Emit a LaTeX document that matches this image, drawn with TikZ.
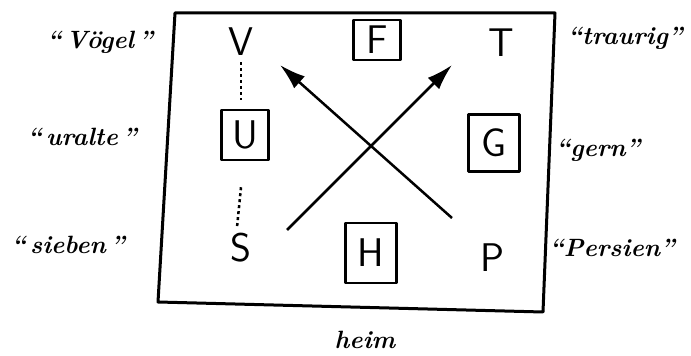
\documentclass[tikz,border=0pt]{standalone}
\usepackage{tikz}
\usetikzlibrary{arrows.meta}
\tikzset{
  letter/.style={font=\sffamily\fontsize{40}{40}\selectfont, inner sep=0pt},
  boxed/.style={letter, draw, line width=2.5pt, minimum width=47pt, minimum height=50pt},
  word/.style={font=\bfseries\itshape\fontsize{25}{25}\selectfont, inner sep=1pt},
  dots/.style={line width=2.5pt, dash pattern=on 3pt off 3pt},
  cross/.style={line width=2.5pt, -{Latex[length=26pt,width=16pt]}}
}
\begin{document}
\begin{tikzpicture}[x=1pt, y=1pt, line join=round]
	\useasboundingbox (0,0) rectangle (691,356);
	
	% Rahmen
	\draw[line width=3pt] (175,343) -- (555,343) -- (543,44) -- (158,54) -- cycle;
	
	% Buchstaben im Rahmen
	\node[letter] (V) at (241,314) {V};
	\node[boxed, minimum height=40pt] (F) at (377,316) {F};
	\node[letter] (T) at (501,313) {T};
	\node[boxed] (U) at (245,221) {U};
	\node[boxed, minimum width=51pt, minimum height=57pt] (G) at (494,213) {G};
	\node[letter] (S) at (241,108) {S};
	\node[boxed, minimum width=51pt, minimum height=60pt] (H) at (371,103) {H};
	\node[letter] (P) at (492,98) {P};
	
	% punktierte Verbindungen
	\draw[dots] ([yshift=-6pt]V.south) -- ([yshift=9pt]V.south |- U.north);
	\draw[dots] ([xshift=-4pt, yshift=-26pt]U.south) -- ([xshift=-4pt, yshift=6pt]S.north);
	
	% Kreuz
	\coordinate (sw) at (287,126);
	\coordinate (ne) at (452,291);
	\coordinate (se) at (452,138);
	\coordinate (nw) at (280,291);
	\draw[cross] (sw) -- (ne);
	\draw[cross] (se) -- (nw);
	
	% Woerter aussen
	\node[word] (voegel) at (100,314) {``\,Vögel\,''};
	\node[word] (uralte) at (82,219) {``\,uralte\,''};
	\node[word] (sieben) at (68,111) {``\,sieben\,''};
	\node[word] (traurig) at (625,318) {``traurig''};
	\node[word] (gern) at (598,206) {``gern''};
	\node[word] (persien) at (612,108) {``Persien''};
	\node[word] (heim) at (365,16) {heim};
\end{tikzpicture}
\end{document}
